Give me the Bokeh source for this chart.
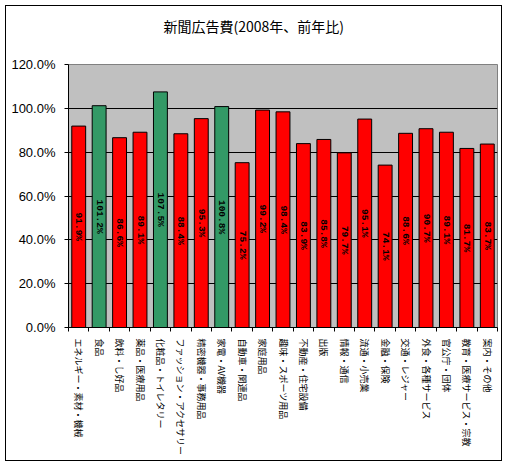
import math
from bokeh.plotting import figure
from bokeh.models import Range1d, FixedTicker, PrintfTickFormatter, ColumnDataSource, Title
from bokeh.embed import file_html
from bokeh.resources import INLINE
from bokeh.core.properties import value

title_text = "新聞広告費(2008年、前年比)"
categories = [
    "エネルギー・素材・機械", "食品", "飲料・し好品", "薬品・医療用品",
    "化粧品・トイレタリー", "ファッション・アクセサリー", "精密機器・事務用品",
    "家電・AV機器", "自動車・関連品", "家庭用品", "趣味・スポーツ用品",
    "不動産・住宅設備", "出版", "情報・通信", "流通・小売業", "金融・保険",
    "交通・レジャー", "外食・各種サービス", "官公庁・団体",
    "教育・医療サービス・宗教", "案内・その他",
]
values = [91.9, 101.2, 86.6, 89.1, 107.5, 88.4, 95.3, 100.8, 75.2, 99.2, 98.4,
          83.9, 85.8, 79.7, 95.1, 74.1, 88.6, 90.7, 89.1, 81.7, 83.7]
y_ticks = [0, 20, 40, 60, 80, 100, 120]

RED = "#FF0000"
GREEN = "#339966"

n = len(categories)
xs = list(range(1, n + 1))
colors = [GREEN if v >= 100 else RED for v in values]
labels = ["%.1f%%" % v for v in values]
mids = [v / 2 for v in values]

src = ColumnDataSource(dict(x=xs, value=values, color=colors, label=labels, mid=mids))

p = figure(width=497, height=456, output_backend="svg", toolbar_location=None,
           title=None,
           x_range=Range1d(0.5, n + 0.5), y_range=Range1d(0, 120),
           min_border_left=62, min_border_right=6, min_border_top=58,
           min_border_bottom=135)
p.styles = {"border": "1px solid black", "margin-left": "5px", "margin-top": "5px"}
p.background_fill_color = "#C0C0C0"
p.border_fill_color = "white"
p.outline_line_color = "#808080"
p.outline_line_width = 1

spacer = Title(text=" ", text_font_size="14px", standoff=6)
main_title = Title(text=title_text, align="left", offset=95, standoff=10,
                   text_font="Noto Sans CJK JP", text_font_size="14px",
                   text_font_style="normal", text_color="black")
p.add_layout(spacer, "above")
p.add_layout(main_title, "above")

p.vbar(x="x", top="value", bottom=0, width=0.68, fill_color="color",
       line_color="black", line_width=1, source=src)

p.text(x="x", y="mid", text="label", angle=-math.pi / 2, text_align="center",
       text_baseline="middle", text_font=value("Liberation Mono"),
       text_font_style="bold", text_font_size="9.5px", text_color="black",
       source=src)

# x axis
xa = p.xaxis[0]
xa.ticker = FixedTicker(ticks=xs, minor_ticks=[x - 0.5 for x in xs] + [n + 0.5])
xa.major_label_overrides = {x: c for x, c in zip(xs, categories)}
xa.major_label_orientation = -math.pi / 2
xa.major_tick_out = 0
xa.major_tick_in = 0
xa.minor_tick_out = 4
xa.minor_tick_in = 0
xa.minor_tick_line_color = "black"
xa.axis_line_color = "black"
xa.major_label_standoff = 7
xa.major_label_text_font = "Noto Sans CJK JP"
xa.major_label_text_font_size = "9px"
xa.major_label_text_color = "black"

# y axis
ya = p.yaxis[0]
ya.ticker = FixedTicker(ticks=y_ticks)
ya.formatter = PrintfTickFormatter(format="%.1f%%")
ya.major_tick_out = 4
ya.major_tick_in = 0
ya.minor_tick_line_color = None
ya.axis_line_color = "black"
ya.major_tick_line_color = "black"
ya.major_label_standoff = 9
ya.major_label_text_font = "Liberation Sans"
ya.major_label_text_font_size = "13px"
ya.major_label_text_color = "black"

p.xgrid.visible = False
p.ygrid.ticker = FixedTicker(ticks=[20, 40, 60, 80, 100])
p.ygrid.grid_line_color = "black"
p.ygrid.grid_line_width = 1

open("out.html", "w").write(file_html(p, INLINE))
